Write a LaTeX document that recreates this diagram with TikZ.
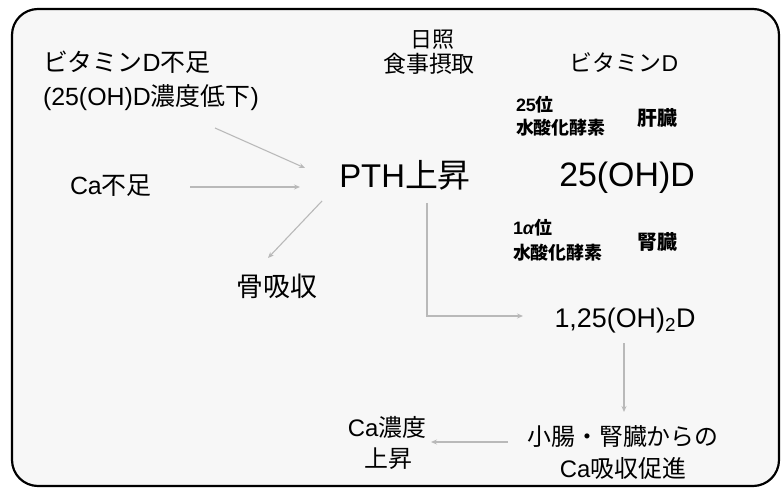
\documentclass[tikz,border=0pt]{standalone}
\usepackage{fontspec}
\setmainfont{Liberation Sans}
\newfontfamily\jpfont{Noto Sans CJK JP}
\newcommand\J[1]{{\jpfont #1}}
\newcommand\fs[1]{\fontsize{#1}{#1}\selectfont}
\usetikzlibrary{arrows.meta}
\begin{document}
\begin{tikzpicture}[x=1bp,y=-1bp,
  txt/.style={inner sep=0pt, outer sep=0pt, text=black},
  small/.style={txt, font=\bfseries},
  conn/.style={draw=gray!55, line width=1.1pt, -{Stealth[length=6pt,width=5pt]}},
  frame/.style={draw=black, line width=2.2pt, rounded corners=26bp}]
\useasboundingbox (0,0) rectangle (781,489);
\fill[gray!6, rounded corners=26bp] (12,9) rectangle (779,486);
\draw[frame] (12,9) rectangle (779,486);

% texts
\node[txt, anchor=base west] (vdd) at (43,72) {\fs{25}\J{ビタミン}D\J{不足}};
\node[txt, anchor=base west] (vdd2) at (43,106) {\fs{25}(25(OH)D\J{濃度低下})};
\node[txt, anchor=base] (nissho) at (432,48) {\fs{22}\J{日照}};
\node[txt, anchor=base] (shokuji) at (429,73) {\fs{23}\J{食事摂取}};
\node[txt, anchor=base] (vitd) at (624,72) {\fs{23}\J{ビタミン}D};
\node[small, anchor=base west] (p25) at (516,112) {\fs{18}25\J{位}};
\node[small, anchor=base west] (hyd1) at (516,135) {\fs{18}\J{水酸化酵素}};
\node[small, anchor=base] (kan) at (657,126) {\fs{20}\J{肝臓}};
\node[txt, anchor=base] (ohd) at (627,187) {\fs{34}25(OH)D};
\node[txt, anchor=base] (pth) at (405,188) {\fs{33}PTH\J{上昇}};
\node[txt, anchor=base west] (ca) at (70,195) {\fs{25}Ca\J{不足}};
\node[small, anchor=base west] (p1a) at (513,235) {\fs{18}1{\itshape α}\J{位}};
\node[small, anchor=base west] (hyd2) at (513,260) {\fs{18}\J{水酸化酵素}};
\node[small, anchor=base] (jin) at (657,250) {\fs{20}\J{腎臓}};
\node[txt, anchor=base] (bone) at (277,297) {\fs{27}\J{骨吸収}};
\node[txt, anchor=base] (d125) at (625,327) {\fs{27}1,25(OH)\textsubscript{2}D};
\node[txt, anchor=base] (caup1) at (387,436) {\fs{24}Ca\J{濃度}};
\node[txt, anchor=base] (caup2) at (388,467) {\fs{24}\J{上昇}};
\node[txt, anchor=base] (abs1) at (623,445) {\fs{24}\J{小腸・腎臓からの}};
\node[txt, anchor=base] (abs2) at (623,477) {\fs{24}Ca\J{吸収促進}};

% connector waypoints
\coordinate (c1) at (215,128);
\coordinate (c2) at (305,168);
\coordinate (c3) at (190,187);
\coordinate (c4) at (300,187);
\coordinate (c5) at (322,201);
\coordinate (c6) at (268,258);
\coordinate (c7) at (427,203);
\coordinate (c8) at (523,316);
\coordinate (c9) at (624,343);
\coordinate (c10) at (624,412);
\coordinate (c11) at (508,442);
\coordinate (c12) at (431,442);

\draw[conn] (c1) -- (c2);
\draw[conn] (c3) -- (c4);
\draw[conn] (c5) -- (c6);
\draw[conn] (c7) |- (c8);
\draw[conn] (c9) -- (c10);
\draw[conn] (c11) -- (c12);
\end{tikzpicture}
\end{document}
